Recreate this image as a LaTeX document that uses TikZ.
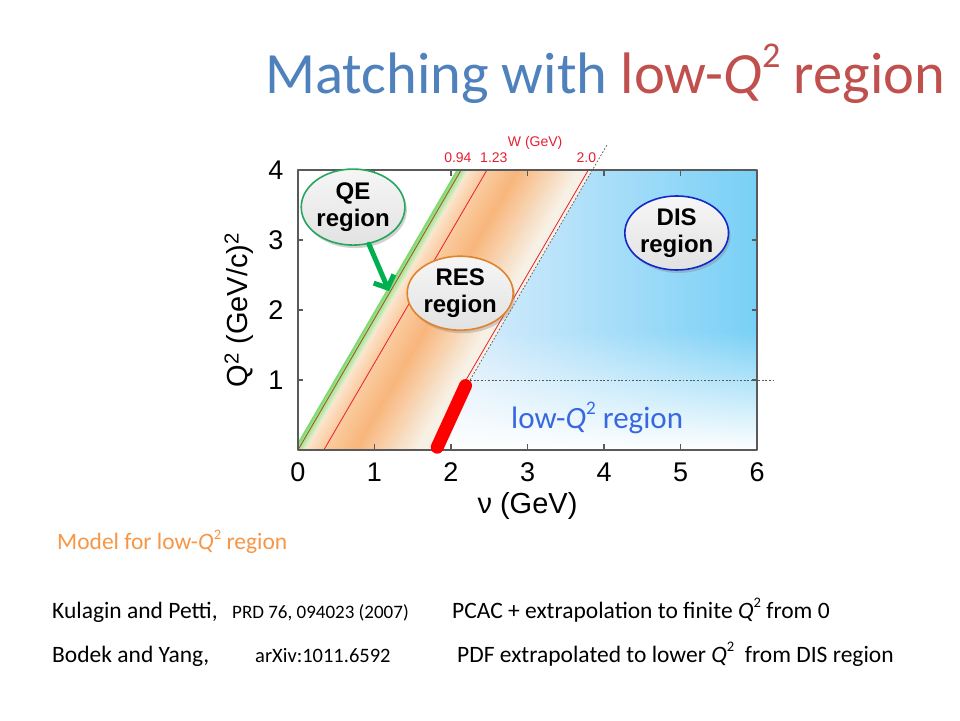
\documentclass[tikz,border=0pt]{standalone}
\usepackage{fontspec}
\usepackage{graphicx}
\setmainfont{Carlito}
\newfontfamily\plotfont{Liberation Sans}
\usetikzlibrary{arrows.meta,shapes.geometric,shadows,fadings}

\definecolor{titleblue}{RGB}{79,129,189}
\definecolor{titlered}{RGB}{192,80,77}
\definecolor{modelorange}{RGB}{247,150,70}
\definecolor{lowblue}{RGB}{56,104,224}
\definecolor{wred}{RGB}{232,30,50}
\definecolor{wbrown}{RGB}{165,80,40}
\definecolor{qegreen}{RGB}{0,176,80}
\definecolor{qeborder}{RGB}{40,165,95}
\definecolor{resborder}{RGB}{222,132,45}
\definecolor{disborder}{RGB}{20,40,200}
\definecolor{elltop}{RGB}{246,246,246}
\definecolor{ellbottom}{RGB}{226,226,226}
\definecolor{bandgreen}{RGB}{125,218,110}
\definecolor{palegreen}{RGB}{228,238,205}
\definecolor{peach}{RGB}{252,228,204}
\definecolor{loworange}{RGB}{250,203,158}
\definecolor{midorange}{RGB}{248,182,124}
\definecolor{cream}{RGB}{247,240,228}
\definecolor{paleblue}{RGB}{226,239,252}
\definecolor{skyblue}{RGB}{120,208,246}
\definecolor{framegray}{RGB}{90,90,90}

\newcommand{\suptwo}{\raisebox{0.45em}{\scalebox{0.62}{2}}}

\begin{document}
\begin{tikzpicture}[line cap=round,line join=round,x=1pt,y=1pt,
  region/.style={ellipse,draw,line width=1.6pt,top color=elltop,bottom color=ellbottom,
    inner sep=0pt,align=center,font=\plotfont\bfseries\fontsize{24}{27}\selectfont,
    drop shadow={opacity=0.35,shadow xshift=2pt,shadow yshift=-3pt}},
  ticklabel/.style={font=\plotfont\fontsize{27}{27}\selectfont},
  wlabel/.style={text=wred,font=\plotfont\fontsize{14}{14}\selectfont},
  refmain/.style={anchor=base west,inner sep=0pt,font=\fontsize{23.5}{23.5}\selectfont},
  refsmall/.style={anchor=base west,inner sep=0pt,font=\fontsize{19}{19}\selectfont},
  dotline/.style={black!65,line width=0.7pt,dash pattern=on 1.8pt off 1.8pt,line cap=butt},
  tick/.style={framegray,line width=1.2pt,line cap=butt}]
\useasboundingbox (0,0) rectangle (960,720);
\fill[white] (0,0) rectangle (960,720);

\node[anchor=base west,inner sep=0pt,font=\fontsize{58.5}{60}\selectfont] (title) at (265,626)
  {\color{titleblue}Matching with \color{titlered}low-\textit{Q}\suptwo{} region};

% plot in (nu, Q^2) units
\begin{scope}[shift={(298,270)},x=76.5pt,y=70pt]
\begin{scope}
\clip (0,0) rectangle (6,4);
% band along the W lines, in (nu at Q^2=0, Q^2) units
\begin{scope}[xslant=0.5826]
\foreach \k in {0,...,7}
  \fill[palegreen!\the\numexpr\k*100/7\relax!bandgreen] (-0.06+0.02*\k,0) rectangle (-0.035+0.02*\k,4);
\foreach \k in {0,...,11}
  \fill[loworange!\the\numexpr\k*100/11\relax!peach] (0.1+0.02*\k,0) rectangle (0.125+0.02*\k,4);
\foreach \k in {0,...,20}
  \fill[midorange!\the\numexpr\k*5\relax!loworange] (0.3375+0.02*\k,0) rectangle (0.3625+0.02*\k,4);
\foreach \k in {0,...,39}
  \fill[cream!\the\numexpr\k*100/39\relax!midorange] (0.75+0.02*\k,0) rectangle (0.775+0.02*\k,4);
\fill[cream] (1.55,0) rectangle (1.72,4);
\end{scope}
\shade[left color=paleblue,right color=skyblue] (1.72,0) -- (6,0) -- (6,4) -- (3.85,4) -- cycle;
\fill[white,path fading=north] (1.72,0) -- (6,0) -- (6,1.7) -- (2.63,1.7) -- cycle;
\end{scope}

\draw[wbrown,line width=0.8pt] (0,0) -- (2.132,4);
\draw[wred,line width=0.8pt] (0.3375,0) -- (2.47,4);
\draw[wred,line width=0.8pt] (2.196,1) -- (3.795,4);
\draw[dotline] (2.25,1) -- (4.04,4.36);
\draw[dotline] (2.25,1) -- (6.24,1);

\draw[framegray,line width=1.5pt,line cap=butt] (0,0) rectangle (6,4);
\draw[tick] (1,0) -- (1,0.08);
\draw[tick] (2,0) -- (2,0.08);
\draw[tick] (3,0) -- (3,0.08);
\draw[tick] (4,0) -- (4,0.08);
\draw[tick] (5,0) -- (5,0.08);
\draw[tick] (1,4) -- (1,3.92);
\draw[tick] (2,4) -- (2,3.92);
\draw[tick] (3,4) -- (3,3.92);
\draw[tick] (4,4) -- (4,3.92);
\draw[tick] (5,4) -- (5,3.92);
\draw[tick] (0,1) -- (0.07,1);
\draw[tick] (0,2) -- (0.07,2);
\draw[tick] (0,3) -- (0.07,3);
\draw[tick] (6,1) -- (5.93,1);
\draw[tick] (6,2) -- (5.93,2);
\draw[tick] (6,3) -- (5.93,3);

\node[ticklabel] (nu0) at (0,-0.32) {0};
\node[ticklabel] (nu1) at (1,-0.32) {1};
\node[ticklabel] (nu2) at (2,-0.32) {2};
\node[ticklabel] (nu3) at (3,-0.32) {3};
\node[ticklabel] (nu4) at (4,-0.32) {4};
\node[ticklabel] (nu5) at (5,-0.32) {5};
\node[ticklabel] (nu6) at (6,-0.32) {6};
\node[ticklabel] (qsq1) at (-0.29,1) {1};
\node[ticklabel] (qsq2) at (-0.29,2) {2};
\node[ticklabel] (qsq3) at (-0.29,3) {3};
\node[ticklabel] (qsq4) at (-0.29,4) {4};
\node[font=\plotfont\fontsize{29}{29}\selectfont] (nulabel) at (3,-0.8) {ν (GeV)};
\node[font=\plotfont\fontsize{29}{29}\selectfont,rotate=90] (qsqlabel) at (-0.77,2)
  {Q\textsuperscript{2} (GeV/c)\textsuperscript{2}};

\node[wlabel] (wtitle) at (3.10,4.39) {W (GeV)};
\node[wlabel] (w094) at (2.09,4.17) {0.94};
\node[wlabel] (w123) at (2.56,4.17) {1.23};
\node[wlabel] (w200) at (3.77,4.17) {2.0};

\coordinate (barlow) at (1.82,0.04);
\coordinate (barhigh) at (2.19,0.92);
\draw[red,line width=13pt] (barlow) -- (barhigh);

\node[region,draw=qeborder,minimum width=100pt,minimum height=76pt] (qe) at (0.72,3.47) {QE\\region};
\node[region,draw=resborder,minimum width=106pt,minimum height=74pt] (res) at (2.12,2.24) {RES\\region};
\node[region,draw=disborder,minimum width=96pt,minimum height=74pt] (dis) at (4.95,3.1) {DIS\\region};
\coordinate (qetip) at (1.19,2.27);
\draw[qegreen,line width=5pt,-{Straight Barb[length=10pt,width=22pt]}] (qe) -- (qetip);

\node[text=lowblue,font=\fontsize{31}{31}\selectfont] (lowq) at (3.91,0.457)
  {low-\textit{Q}\suptwo{} region};
\end{scope}

\node[anchor=base west,inner sep=0pt,text=modelorange,font=\fontsize{23.5}{23.5}\selectfont] (model) at (57,170)
  {Model for low-\textit{Q}\suptwo{} region};
\node[refmain] (kp) at (52,102) {Kulagin and Petti,};
\node[refsmall] (kpref) at (232,102) {PRD 76, 094023 (2007)};
\node[refmain] (kptext) at (452,102) {PCAC + extrapolation to finite \textit{Q}\suptwo{} from 0};
\node[refmain] (by) at (52,58) {Bodek and Yang,};
\node[refsmall,font=\fontsize{20.5}{20.5}\selectfont] (byref) at (255,58) {arXiv:1011.6592};
\node[refmain] (bytext) at (457,58) {PDF extrapolated to lower \textit{Q}\suptwo{}\ \ from DIS region};
\end{tikzpicture}
\end{document}
